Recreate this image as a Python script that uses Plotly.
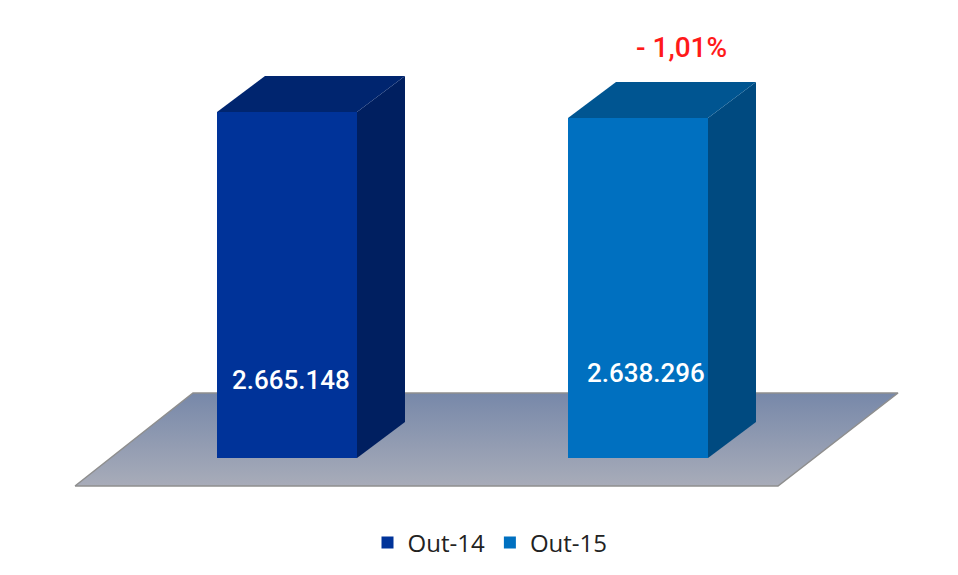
import plotly.graph_objects as go

# Data
categories = ["Out-14", "Out-15"]
values = [2665148, 2638296]
change_label = "- 1,01%"
front_colors = ["#003399", "#0070C0"]
side_colors = ["#001F60", "#004A80"]
top_colors = ["#00256F", "#005591"]

# Canvas and 3D projection settings (the page has an 8 px body margin)
PAGE_MARGIN = 8
W, H = 958 - PAGE_MARGIN, 575 - PAGE_MARGIN
PX_PER_X = 351.0            # pixels between bar centres
CENTER0_PX = 287.0 - PAGE_MARGIN
BASE_PX = 458.0 - PAGE_MARGIN
UNITS_PER_PX = (values[0] - values[1]) / 6.0
BASE = values[0] - 346 * UNITS_PER_PX
BAR_W = 140 / PX_PER_X
DX = 48 / PX_PER_X
DY = 36 * UNITS_PER_PX

x_range = [-CENTER0_PX / PX_PER_X, (W - CENTER0_PX) / PX_PER_X]
y_range = [BASE - (H - BASE_PX) * UNITS_PER_PX, BASE + BASE_PX * UNITS_PER_PX]


def fmt(v):
    return f"{v:,}".replace(",", ".")


def xp(px):
    return (px - PAGE_MARGIN - CENTER0_PX) / PX_PER_X


def yp(py):
    return BASE + (BASE_PX - (py - PAGE_MARGIN)) * UNITS_PER_PX


fig = go.Figure()

# Floor (bottom subplot, so that the bars sit above it)
floor_x = [xp(75), xp(778), xp(898), xp(193), xp(75)]
floor_y = [yp(486), yp(486), yp(393), yp(393), yp(486)]
fig.add_trace(go.Scatter(
    x=floor_x, y=floor_y, mode="lines", fill="toself",
    line=dict(color="#8E8E8E", width=1.5),
    fillgradient=dict(type="vertical",
                      colorscale=[[0, "#A8ACB9"], [1, "#7788A9"]]),
    showlegend=False, hoverinfo="skip", xaxis="x", yaxis="y",
))

for i, (cat, val) in enumerate(zip(categories, values)):
    left, right = i - BAR_W / 2, i + BAR_W / 2
    fig.add_trace(go.Bar(
        x=[i], y=[val - BASE], base=BASE, width=BAR_W, name=cat,
        marker=dict(color=front_colors[i], line=dict(width=0)),
        xaxis="x2", yaxis="y2", hoverinfo="skip",
    ))
    # side face
    fig.add_trace(go.Scatter(
        x=[right, right + DX, right + DX, right, right],
        y=[BASE, BASE + DY, val + DY, val, BASE],
        mode="lines", fill="toself", fillcolor=side_colors[i],
        line=dict(width=0, color=side_colors[i]),
        showlegend=False, hoverinfo="skip", xaxis="x2", yaxis="y2",
    ))
    # top face
    fig.add_trace(go.Scatter(
        x=[left, right, right + DX, left + DX, left],
        y=[val, val, val + DY, val + DY, val],
        mode="lines", fill="toself", fillcolor=top_colors[i],
        line=dict(width=0, color=top_colors[i]),
        showlegend=False, hoverinfo="skip", xaxis="x2", yaxis="y2",
    ))

axis_common = dict(visible=False, showgrid=False, zeroline=False, fixedrange=True)
label_cols = [290.5, 646]
label_rows = [380, 373]
annotations = [
    dict(x=xp(label_cols[i]), y=yp(label_rows[i]), xref="x2", yref="y2", text=fmt(v),
         showarrow=False,
         font=dict(family="Roboto", size=26, color="white", weight=500))
    for i, v in enumerate(values)
]
annotations.append(dict(
    x=xp(681.5), y=yp(47.5), xref="x2", yref="y2", text=change_label, showarrow=False,
    font=dict(family="Roboto", size=28, color="#FF1A1A", weight=500),
))

fig.update_layout(
    width=W, height=H,
    margin=dict(l=0, r=0, t=0, b=0),
    paper_bgcolor="white", plot_bgcolor="white",
    xaxis=dict(range=x_range, **axis_common),
    yaxis=dict(range=y_range, **axis_common),
    xaxis2=dict(range=x_range, overlaying="x", **axis_common),
    yaxis2=dict(range=y_range, overlaying="y", **axis_common),
    annotations=annotations,
    legend=dict(orientation="h", x=(490 - PAGE_MARGIN) / W, y=1 - (543 - PAGE_MARGIN) / H,
                xanchor="center", yanchor="middle",
                font=dict(family="Open Sans", size=24, color="#222222"),
                bgcolor="rgba(0,0,0,0)"),
)

fig.write_html("out.html")
